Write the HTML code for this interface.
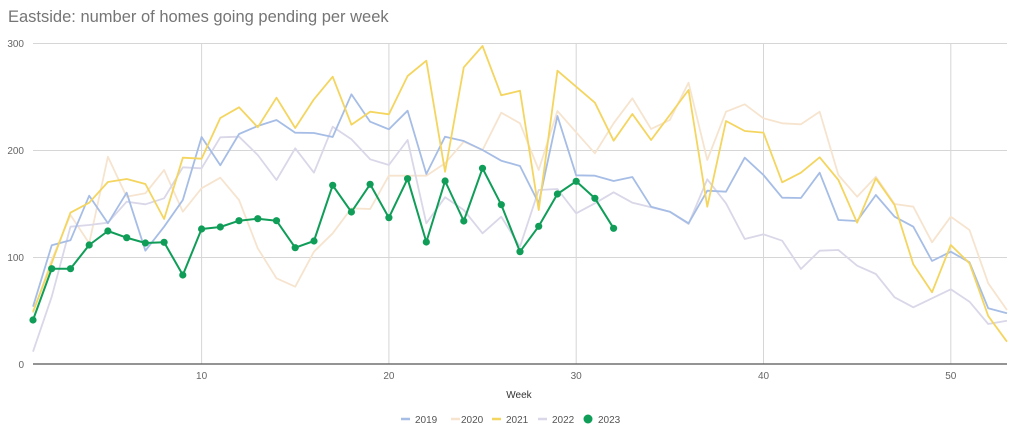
<!DOCTYPE html>
<html><head><meta charset="utf-8"><style>
html,body{margin:0;padding:0;background:#fff;width:1024px;height:434px;overflow:hidden}
svg{display:block;font-family:"Liberation Sans",Arial,sans-serif}
</style></head><body>
<svg width="1024" height="434" viewBox="0 0 1024 434">
<text x="8" y="22" font-size="16.5" fill="#757575">Eastside: number of homes going pending per week</text>
<g stroke="#d6d6d6" stroke-width="1">
<line x1="33" y1="43.5" x2="1007" y2="43.5"/>
<line x1="33" y1="150.5" x2="1007" y2="150.5"/>
<line x1="33" y1="257.5" x2="1007" y2="257.5"/>
<line x1="201.6" y1="43" x2="201.6" y2="364"/>
<line x1="388.9" y1="43" x2="388.9" y2="364"/>
<line x1="576.2" y1="43" x2="576.2" y2="364"/>
<line x1="763.5" y1="43" x2="763.5" y2="364"/>
<line x1="950.8" y1="43" x2="950.8" y2="364"/>
</g>
<line x1="33" y1="364" x2="1007" y2="364" stroke="#555" stroke-width="1.2"/>
<g font-size="10" fill="#666">
<text x="24" y="47" text-anchor="end">300</text>
<text x="24" y="154" text-anchor="end">200</text>
<text x="24" y="261" text-anchor="end">100</text>
<text x="24" y="368" text-anchor="end">0</text>
<g text-anchor="middle">
<text x="201.6" y="379">10</text><text x="388.9" y="379">20</text><text x="576.2" y="379">30</text><text x="763.5" y="379">40</text><text x="950.8" y="379">50</text>
</g>
<text x="519" y="398" text-anchor="middle" fill="#333">Week</text>
</g>
<g fill="none" stroke-width="1.8" stroke-linejoin="round" transform="translate(14.27,0) scale(18.73,1)">
<polyline vector-effect="non-scaling-stroke" stroke="#f6e4cf" points="1,313 2,260 3,215 4,243.3 5,156.7 6,196.7 7,193.3 8,170 9,211.7 10,188.3 11,177.7 12,200 13,248.3 14,278.3 15,286.7 16,251.7 17,233.3 18,208.3 19,209 20,175.7 21,175.7 22,175.7 23,163.3 24,141.7 25,150 26,112.7 27,123.3 28,170 29,111 30,132.3 31,153.3 32,123.3 33,98.3 34,129 35,120 36,82.7 37,160 38,111.7 39,104.3 40,118.3 41,123.3 42,124.3 43,111.7 44,175 45,196.7 46,176.7 47,204 48,206.7 49,242.3 50,216.7 51,230 52,283.3 53,310"/>
<polyline vector-effect="non-scaling-stroke" stroke="#d9d7e8" points="1,351.7 2,296.7 3,226.7 4,225 5,222.7 6,201.7 7,204.3 8,198.3 9,167.3 10,168.3 11,137.3 12,136.7 13,155 14,180 15,148.3 16,172.7 17,126.7 18,139.3 19,159.3 20,165 21,140 22,223.3 23,197.3 24,210 25,233.3 26,216.7 27,246.7 28,190 29,189 30,213.3 31,203.3 32,192.3 33,202.7 34,207.3 35,211.7 36,224 37,179.3 38,203.3 39,239 40,234.3 41,240.7 42,269 43,250.7 44,250 45,265.7 46,274 47,297.3 48,307.3 49,298.3 50,289.3 51,301.7 52,324 53,320.7"/>
<polyline vector-effect="non-scaling-stroke" stroke="#a6bde6" points="1,306.7 2,245.3 3,240.3 4,195.7 5,223.3 6,192.7 7,250.7 8,226.7 9,200 10,137 11,165.3 12,134 13,126 14,120 15,132.7 16,133 17,137 18,94.3 19,121.7 20,129.3 21,110.7 22,174 23,136.7 24,141 25,150 26,160.7 27,166 28,203.3 29,116 30,175.3 31,175.7 32,181 33,177 34,206.7 35,211.7 36,223.3 37,190.7 38,191.7 39,157.7 40,175 41,197.7 42,198 43,172.7 44,220 45,221 46,195 47,216.7 48,226.7 49,261 50,251.7 51,262.3 52,308.3 53,313.3"/>
<polyline vector-effect="non-scaling-stroke" stroke="#f4d55f" points="1,311.7 2,263 3,212.7 4,202.7 5,182 6,179 7,184 8,219 9,157.7 10,158.7 11,118 12,107.3 13,127.3 14,97.7 15,128 16,99.3 17,76.7 18,124.7 19,111.7 20,114.3 21,76 22,60.7 23,171.7 24,67.3 25,46 26,95.3 27,90.7 28,210 29,70.7 30,86.7 31,102.7 32,140.7 33,114 34,140 35,115 36,90 37,206.7 38,121 39,131 40,132.7 41,182.3 42,172.7 43,157.3 44,180 45,222.7 46,178.3 47,205 48,264.3 49,292.3 50,245 51,263.3 52,316 53,341.7"/>
<polyline vector-effect="non-scaling-stroke" stroke="#0f9d58" stroke-width="2" points="1,320 2,268.7 3,268.7 4,245 5,231 6,237.7 7,243 8,242.3 9,275 10,229 11,227 12,220.7 13,218.7 14,220.7 15,247.7 16,241 17,185.3 18,212 19,184.3 20,217.7 21,178.7 22,242 23,181 24,221 25,168.3 26,204.7 27,251.7 28,226.3 29,194 30,181.3 31,198.3 32,228.3"/>
</g>
<g fill="#0f9d58">
<circle cx="33" cy="320" r="3.6"/><circle cx="51.7" cy="268.7" r="3.6"/><circle cx="70.5" cy="268.7" r="3.6"/><circle cx="89.2" cy="245" r="3.6"/><circle cx="107.9" cy="231" r="3.6"/><circle cx="126.7" cy="237.7" r="3.6"/><circle cx="145.4" cy="243" r="3.6"/><circle cx="164.1" cy="242.3" r="3.6"/><circle cx="182.8" cy="275" r="3.6"/><circle cx="201.6" cy="229" r="3.6"/><circle cx="220.3" cy="227" r="3.6"/><circle cx="239" cy="220.7" r="3.6"/><circle cx="257.8" cy="218.7" r="3.6"/><circle cx="276.5" cy="220.7" r="3.6"/><circle cx="295.2" cy="247.7" r="3.6"/><circle cx="314" cy="241" r="3.6"/><circle cx="332.7" cy="185.3" r="3.6"/><circle cx="351.4" cy="212" r="3.6"/><circle cx="370.1" cy="184.3" r="3.6"/><circle cx="388.9" cy="217.7" r="3.6"/><circle cx="407.6" cy="178.7" r="3.6"/><circle cx="426.3" cy="242" r="3.6"/><circle cx="445.1" cy="181" r="3.6"/><circle cx="463.8" cy="221" r="3.6"/><circle cx="482.5" cy="168.3" r="3.6"/><circle cx="501.3" cy="204.7" r="3.6"/><circle cx="520" cy="251.7" r="3.6"/><circle cx="538.7" cy="226.3" r="3.6"/><circle cx="557.4" cy="194" r="3.6"/><circle cx="576.2" cy="181.3" r="3.6"/><circle cx="594.9" cy="198.3" r="3.6"/><circle cx="613.6" cy="228.3" r="3.6"/>
</g>
<g font-size="10" fill="#555">
<line x1="401" y1="419" x2="410" y2="419" stroke="#a6bde6" stroke-width="2.5"/><text x="415" y="423">2019</text>
<line x1="451" y1="419" x2="460" y2="419" stroke="#f6e4cf" stroke-width="2.5"/><text x="461" y="423">2020</text>
<line x1="492" y1="419" x2="501" y2="419" stroke="#f4d55f" stroke-width="2.5"/><text x="506" y="423">2021</text>
<line x1="538" y1="419" x2="547" y2="419" stroke="#d9d7e8" stroke-width="2.5"/><text x="552" y="423">2022</text>
<circle cx="588" cy="419" r="4.5" fill="#0f9d58"/><text x="598" y="423">2023</text>
</g>
</svg>
</body></html>
